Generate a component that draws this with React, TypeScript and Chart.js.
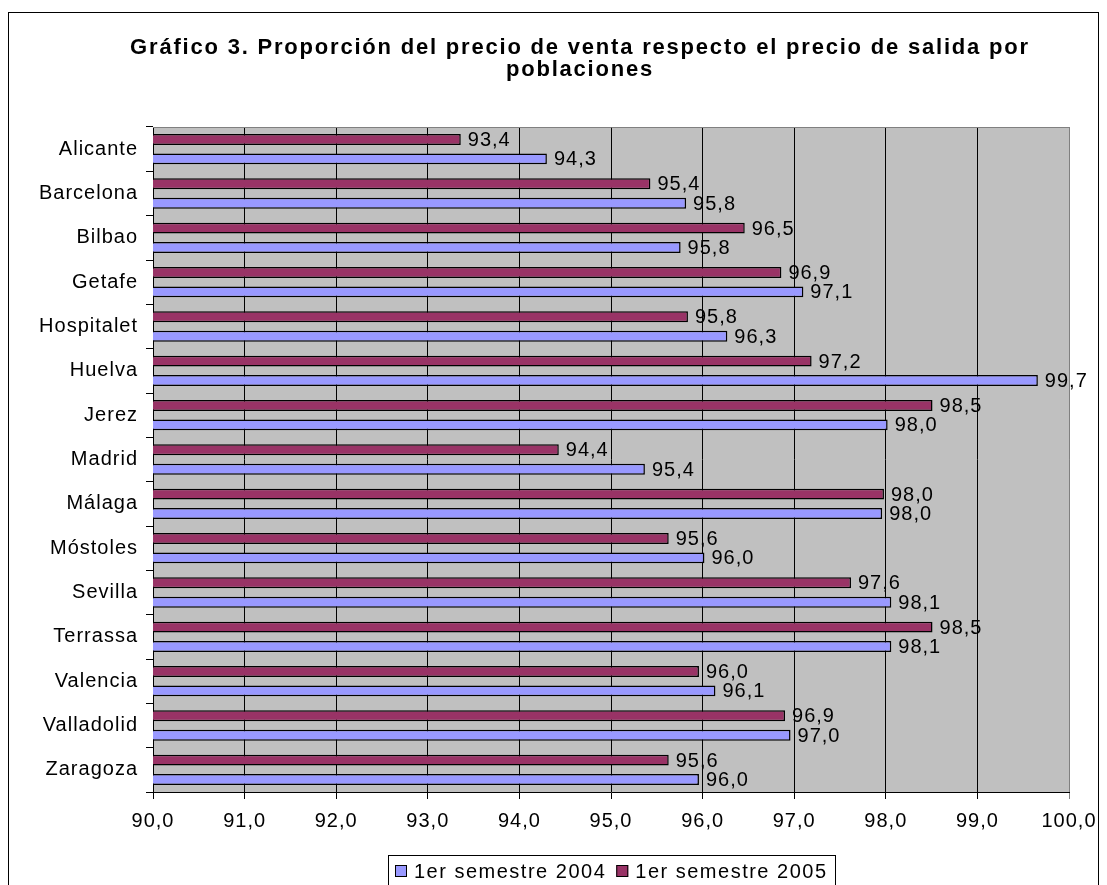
import React, { useEffect, useRef } from 'react';
import { Chart, registerables } from 'chart.js';

Chart.register(...registerables);

const categories = [
  'Alicante', 'Barcelona', 'Bilbao', 'Getafe', 'Hospitalet', 'Huelva', 'Jerez', 'Madrid',
  'Málaga', 'Móstoles', 'Sevilla', 'Terrassa', 'Valencia', 'Valladolid', 'Zaragoza',
];
const series2005 = [93.36, 95.43, 96.46, 96.86, 95.84, 97.19, 98.51, 94.43, 97.98, 95.63, 97.62, 98.51, 95.96, 96.9, 95.63];
const series2004 = [94.3, 95.82, 95.76, 97.1, 96.27, 99.66, 98.02, 95.37, 97.96, 96.02, 98.06, 98.06, 96.14, 96.96, 95.96];
const seriesNames = ['1er semestre 2004', '1er semestre 2005'];
const titleLines = [
  'Gráfico 3. Proporción del precio de venta respecto el precio de salida por',
  'poblaciones',
];
const xMin = 90;
const xMax = 100;
const xStep = 1;

const color2004 = '#9999FF';
const color2005 = '#993366';
const FAMILY = '"Liberation Sans", Arial, sans-serif';
const SPACING = '1px';

const fmt = (v: number) => v.toFixed(1).replace('.', ',');

const decor = {
  id: 'decor',
  beforeUpdate(chart: any) {
    chart.ctx.letterSpacing = SPACING;
  },
  beforeDraw(chart: any) {
    const { ctx, chartArea: a } = chart;
    ctx.letterSpacing = SPACING;
    ctx.save();
    ctx.fillStyle = '#ffffff';
    ctx.fillRect(0, 0, chart.width, chart.height);
    ctx.strokeStyle = '#000';
    ctx.lineWidth = 1;
    ctx.strokeRect(8.5, 12.5, 1090, 900);
    ctx.fillStyle = '#C0C0C0';
    ctx.fillRect(a.left, a.top, a.right - a.left, a.bottom - a.top);
    ctx.restore();
  },
  beforeDatasetsDraw(chart: any) {
    const { ctx, chartArea: a } = chart;
    ctx.save();
    ctx.strokeStyle = '#808080';
    ctx.lineWidth = 1;
    ctx.beginPath();
    ctx.moveTo(a.left, Math.round(a.top) + 0.5);
    ctx.lineTo(Math.round(a.right) + 0.5, Math.round(a.top) + 0.5);
    ctx.lineTo(Math.round(a.right) + 0.5, a.bottom);
    ctx.stroke();
    ctx.restore();
  },
  afterDatasetsDraw(chart: any) {
    const { ctx } = chart;
    ctx.save();
    ctx.letterSpacing = SPACING;
    ctx.font = `20px ${FAMILY}`;
    ctx.fillStyle = '#000';
    ctx.textAlign = 'left';
    ctx.textBaseline = 'middle';
    chart.data.datasets.forEach((ds: any, di: number) => {
      const meta = chart.getDatasetMeta(di);
      meta.data.forEach((el: any, i: number) => {
        ctx.fillText(fmt(ds.data[i]), el.x + 7, el.y + 1);
      });
    });
    ctx.restore();
  },
  afterDraw(chart: any) {
    const { ctx, chartArea: a } = chart;
    ctx.save();
    // title
    ctx.letterSpacing = '1.8px';
    ctx.font = `bold 22px ${FAMILY}`;
    ctx.fillStyle = '#000';
    ctx.textAlign = 'center';
    ctx.textBaseline = 'middle';
    ctx.fillText(titleLines[0], 580, 48);
    ctx.fillText(titleLines[1], 580, 70);
    // legend
    ctx.letterSpacing = '1.5px';
    ctx.font = `20px ${FAMILY}`;
    const items = [
      { label: seriesNames[0], color: color2004 },
      { label: seriesNames[1], color: color2005 },
    ];
    const sq = 12, gapSq = 7, gapItem = 10, pad = 7;
    const widths = items.map((it) => ctx.measureText(it.label).width);
    let total = pad * 2 + gapItem * (items.length - 1);
    widths.forEach((w) => (total += sq + gapSq + w));
    const cx = (a.left + a.right) / 2;
    let x = Math.round(cx - total / 2);
    const top = 855;
    ctx.strokeStyle = '#000';
    ctx.lineWidth = 1;
    ctx.strokeRect(x + 0.5, top + 0.5, Math.round(total), 40);
    x += pad;
    ctx.textAlign = 'left';
    items.forEach((it, i) => {
      ctx.fillStyle = it.color;
      ctx.fillRect(x, 865, sq, sq);
      ctx.strokeRect(x + 0.5, 865.5, sq - 1, sq - 1);
      x += sq + gapSq;
      ctx.fillStyle = '#000';
      ctx.fillText(it.label, x, 872);
      x += widths[i] + gapItem;
    });
    ctx.restore();
  },
};

export default function App() {
  const ref = useRef<HTMLCanvasElement | null>(null);
  useEffect(() => {
    if (!ref.current) return;
    Chart.defaults.font.family = FAMILY;
    const chart = new Chart(ref.current, {
      type: 'bar',
      data: {
        labels: categories,
        datasets: [
          {
            label: seriesNames[1],
            data: series2005,
            backgroundColor: color2005,
            borderColor: '#000',
            borderWidth: 1.5,
            borderSkipped: false,
            categoryPercentage: 0.877,
            barPercentage: 0.56,
          },
          {
            label: seriesNames[0],
            data: series2004,
            backgroundColor: color2004,
            borderColor: '#000',
            borderWidth: 1.5,
            borderSkipped: false,
            categoryPercentage: 0.877,
            barPercentage: 0.56,
          },
        ],
      },
      options: {
        indexAxis: 'y',
        responsive: false,
        animation: false,
        devicePixelRatio: 1,
        layout: { padding: { top: 127, right: 38, bottom: 48, left: 0 } },
        plugins: {
          legend: { display: false },
          title: { display: false },
          tooltip: { enabled: false },
        },
        scales: {
          x: {
            type: 'linear',
            min: xMin,
            max: xMax,
            ticks: {
              stepSize: xStep,
              color: '#000',
              font: { size: 20, family: FAMILY },
              padding: 10,
              callback: (v: any) => fmt(Number(v)),
              maxRotation: 0,
              autoSkip: false,
            },
            grid: {
              color: (c: any) => (c.tick && c.tick.value === xMax ? '#808080' : '#000'),
              lineWidth: 1,
              tickLength: 7,
              drawOnChartArea: true,
            },
            border: { display: true, color: '#000' },
            afterFit: (s: any) => {
              s.height = 45;
            },
          },
          y: {
            type: 'category',
            ticks: {
              color: '#000',
              font: { size: 20, family: FAMILY },
              padding: 8,
              autoSkip: false,
            },
            grid: {
              offset: true,
              drawOnChartArea: false,
              tickLength: 7,
              color: '#000',
            },
            border: { display: true, color: '#000' },
            afterFit: (s: any) => {
              s.width = 153;
            },
          },
        },
      },
      plugins: [decor],
    } as any);
    return () => chart.destroy();
  }, []);
  return (
    <canvas
      ref={ref}
      width={1107}
      height={885}
      style={{ position: 'fixed', left: 0, top: 0, width: 1107, height: 885, display: 'block' }}
    />
  );
}
